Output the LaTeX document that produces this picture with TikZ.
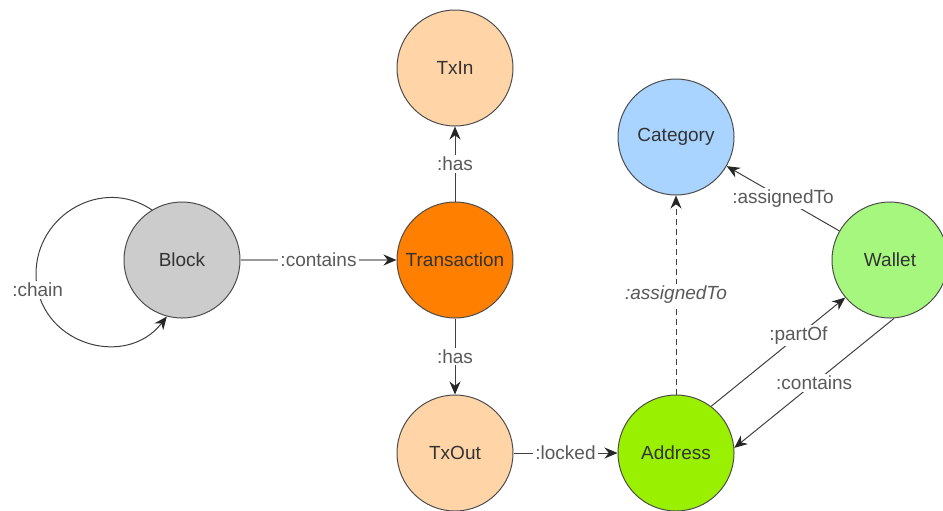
\documentclass[tikz,border=0pt]{standalone}
\usepackage{fontspec}
\setmainfont{Liberation Sans}
\usepackage{tikz}
\usetikzlibrary{ positioning, arrows.meta }
\usepackage{xcolor}
\definecolor{txpeach}{HTML}{FFD5A8}
\definecolor{txorange}{HTML}{FF7F00}
\definecolor{catblue}{HTML}{A8D4FF}
\definecolor{walletgreen}{HTML}{A6F77E}
\definecolor{addrgreen}{HTML}{99F000}
\definecolor{blockgray}{HTML}{CCCCCC}

\begin{document}
\begin{tikzpicture}[
  x=0.5pt, y=0.5pt,
  entity/.style={draw=black!70, circle, minimum size=58pt, inner sep=0pt,
                 line width=0.5pt, text=black!80, font=\fontsize{9.5}{11}\selectfont},
  rel/.style={-{Stealth[length=6.5pt, width=5.5pt, black!85]}, draw=black!75, line width=0.5pt},
  lbl/.style={fill=white, inner sep=1pt, text=black!65, font=\fontsize{9.5}{11}\selectfont},
  lblit/.style={lbl, font=\fontsize{9.5}{11}\selectfont\itshape},
]
  \useasboundingbox (0,0) rectangle (943,-510);

  \node[entity, fill=txorange] (Transaction) at (455,-260) {Transaction};
  \node[entity, fill=txpeach, above=37.5pt of Transaction] (TxIn) {TxIn};
  \node[entity, fill=txpeach, below=38pt of Transaction] (TxOut) {TxOut};
  \node[entity, fill=blockgray, left=78pt of Transaction] (Block) {Block};
  \node[entity, fill=addrgreen, right=52pt of TxOut] (Address) {Address};
  \node[entity, fill=catblue, above=99.5pt of Address] (Category) {Category};
  \node[entity, fill=walletgreen, right=159pt of Transaction] (Wallet) {Wallet};
  \coordinate (chainL) at (36,-274);

  \draw[rel] (Block.121) to[out=146, in=90, looseness=1.15] (chainL)
    to[out=270, in=232, looseness=1.28] node[lbl, pos=0.08] {:chain} (Block.255);
  \draw[rel, draw=black!40, line width=0.9pt] (Block) -- node[lbl] {:contains} (Transaction);
  \draw[rel] (Transaction) -- node[lbl] {:has} (TxIn);
  \draw[rel] (Transaction) -- node[lbl] {:has} (TxOut);
  \draw[rel] (TxOut) -- node[lbl] {:locked} (Address);
  \draw[rel, dash pattern=on 3pt off 2pt] (Address) -- node[lblit] {:assignedTo} (Category);
  \draw[rel] (Wallet) -- node[lbl] {:assignedTo} (Category);
  \draw[rel] (Address.53) -- node[lbl, pos=0.65] {:partOf} (Wallet.220);
  \draw[rel] (Wallet.274) -- node[lbl] {:contains} (Address.5);
\end{tikzpicture}
\end{document}
